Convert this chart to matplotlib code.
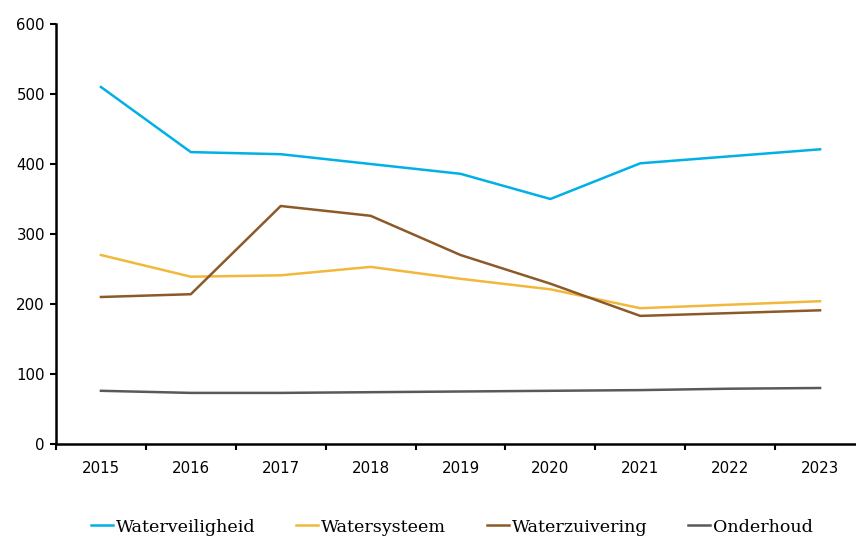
import matplotlib.pyplot as plt
from matplotlib.ticker import FixedLocator

years = ['2015', '2016', '2017', '2018', '2019', '2020', '2021', '2022', '2023']
waterveiligheid = [510, 417, 414, 400, 386, 350, 401, 411, 421]
watersysteem = [270, 239, 241, 253, 236, 221, 194, 199, 204]
waterzuivering = [210, 214, 340, 326, 270, 229, 183, 187, 191]
onderhoud = [76, 73, 73, 74, 75, 76, 77, 79, 80]

series = [
    ('Waterveiligheid', waterveiligheid, '#00B0E6'),
    ('Watersysteem', watersysteem, '#F1B83C'),
    ('Waterzuivering', waterzuivering, '#8C5A28'),
    ('Onderhoud', onderhoud, '#595959'),
]

fig = plt.figure(figsize=(8.56, 5.38), dpi=100)
ax = fig.add_axes([56 / 856, 94 / 538, 800 / 856, 420 / 538])

x = list(range(len(years)))
for name, vals, color in series:
    ax.plot(x, vals, color=color, linewidth=1.8, label=name)

ax.set_ylim(0, 600)
ax.set_yticks(range(0, 601, 100))
ax.set_xlim(-0.5, 8.4)
ax.set_xticks(x)
ax.set_xticklabels(years)
ax.xaxis.set_minor_locator(FixedLocator([i - 0.5 for i in range(len(years))]))
ax.tick_params(axis='x', which='major', length=0, pad=12, labelsize=10.8)
ax.tick_params(axis='x', which='minor', length=4, width=1.5, direction='out')
ax.tick_params(axis='y', length=4, width=1.5, direction='out', pad=4, labelsize=10.8)

for side in ['top', 'right']:
    ax.spines[side].set_visible(False)
for side in ['left', 'bottom']:
    ax.spines[side].set_linewidth(1.8)

fig.legend(loc='center', bbox_to_anchor=(0.528, 1 - 527 / 538), ncol=4, frameon=False,
           handlelength=1.25, handletextpad=0.2, columnspacing=2.3,
           prop={'family': 'DejaVu Serif', 'size': 12.6})

fig.savefig('out.png', dpi=100)
